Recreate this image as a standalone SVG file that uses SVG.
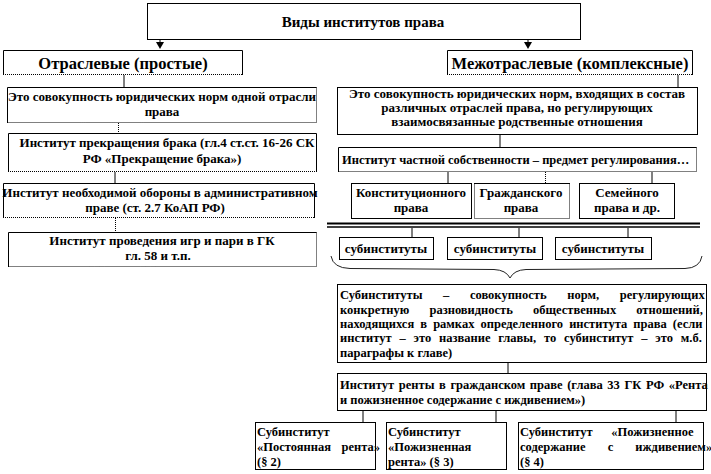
<svg xmlns="http://www.w3.org/2000/svg" width="711" height="474" viewBox="0 0 711 474">
<defs>
<style>
.t{font-family:"Liberation Serif","DejaVu Serif",serif;font-weight:bold;font-size:13px;fill:#000}
.m{font-size:12.5px}
.c{text-anchor:middle}
.bg{fill:#fff;stroke:none}
.box{fill:#fff;stroke:#000;stroke-width:1}
.s{fill:none;stroke:#000;stroke-width:1}
.d{fill:none;stroke:#000;stroke-width:1;stroke-dasharray:1 1}
.br{fill:none;stroke:#222;stroke-width:1}
</style>
</defs>
<rect width="711" height="474" fill="#fff"/>

<g id="connectors">
<line class="s" x1="160" y1="40" x2="160" y2="42"/>
<path d="M156,42 L164,42 L160,49 Z" fill="#000"/>
<line class="s" x1="528" y1="40" x2="528" y2="42"/>
<path d="M524,42 L532,42 L528,49 Z" fill="#000"/>
<line class="s" x1="124" y1="75" x2="124" y2="87"/>
<line class="s" x1="678" y1="75" x2="678" y2="87"/>
<line class="d" x1="118.5" y1="123" x2="118.5" y2="133"/>
<line class="s" x1="115" y1="172" x2="115" y2="183"/>
<line class="d" x1="115.5" y1="218" x2="115.5" y2="232"/>
<line class="s" x1="500" y1="135" x2="500" y2="147"/>
<line class="s" x1="448" y1="172" x2="448" y2="183"/>
<line class="d" x1="545.5" y1="172" x2="545.5" y2="183"/>
<line class="s" x1="652" y1="172" x2="652" y2="183"/>
<line x1="327" y1="223.5" x2="700" y2="223.5" stroke="#000" stroke-width="2"/>
<line x1="327" y1="227" x2="700" y2="227" stroke="#000" stroke-width="1.5"/>
<line class="s" x1="412" y1="228" x2="412" y2="237"/>
<line class="s" x1="519" y1="228" x2="519" y2="237"/>
<line class="s" x1="628" y1="228" x2="628" y2="237"/>
<path class="br" d="M331,256 Q333,268 350,268.5 L494,269.5 Q506,270 510,278 Q514,270 526,269.5 L685,268.5 Q700,268 702,256"/>
<line class="s" x1="508" y1="363" x2="508" y2="374"/>
<line class="s" x1="363" y1="411" x2="363" y2="422"/>
<line class="s" x1="496" y1="411" x2="496" y2="422"/>
<line class="s" x1="676" y1="411" x2="676" y2="422"/>
</g>

<g id="title">
<rect class="box" x="147.5" y="3.5" width="433" height="36"/>
<text class="t c" x="363" y="27" style="font-size:15px">Виды институтов права</text>
</g>

<g id="otr">
<rect class="bg" x="3" y="50" width="240" height="25"/>
<path class="s" d="M3.5,75 V50.5 H242.5 V75"/>
<line class="d" x1="3" y1="74.5" x2="243" y2="74.5"/>
<text class="t c" x="123" y="69" style="font-size:16.5px">Отраслевые (простые)</text>
</g>

<g id="mezh">
<rect class="bg" x="447" y="50" width="246" height="25"/>
<path class="s" d="M447.5,75 V50.5 H692.5 V75"/>
<line class="d" x1="447" y1="74.5" x2="693" y2="74.5"/>
<text class="t c" x="570" y="69" style="font-size:16.5px">Межотраслевые (комплексные)</text>
</g>

<g id="otr-def">
<rect class="bg" x="7" y="87" width="310" height="36"/>
<path class="s" d="M7.5,123 V87.5 H316.5"/>
<path class="d" d="M316.5,87.5 V122.5 H7"/>
<text class="t c" x="162" y="101">Это совокупность юридических  норм одной отрасли</text>
<text class="t c" x="162" y="116">права</text>
</g>

<g id="brak">
<rect class="bg" x="8" y="133" width="309" height="39"/>
<path class="s" d="M8.5,172 V133.5 H316.5 V172"/>
<line class="d" x1="8" y1="171.5" x2="317" y2="171.5"/>
<text class="t c" x="167" y="147">Институт прекращения брака (гл.4  ст.ст.  16-26  СК</text>
<text class="t c" x="162" y="163">РФ «Прекращение брака»)</text>
</g>

<g id="oborona">
<rect class="bg" x="3" y="183" width="312" height="35"/>
<path class="s" d="M3.5,218 V183.5 H314.5 V218"/>
<line class="d" x1="3" y1="217.5" x2="315" y2="217.5"/>
<text class="t c" x="160" y="197">Институт  необходимой  обороны в административном</text>
<text class="t c" x="155" y="212">праве (ст.  2.7 КоАП РФ)</text>
</g>

<g id="igry">
<rect class="bg" x="8" y="232" width="309" height="35"/>
<path class="s" d="M8.5,267 V232.5 H316.5"/>
<path class="d" d="M316.5,232.5 V266.5 H8"/>
<text class="t c" x="162" y="245">Институт  проведения игр и пари в ГК</text>
<text class="t c" x="158" y="260">гл.  58 и т.п.</text>
</g>

<g id="mezh-def">
<rect class="box" x="337.5" y="87.5" width="360" height="47"/>
<text class="t c" x="517" y="98">Это совокупность юридических  норм, входящих  в состав</text>
<text class="t c" x="517" y="112">различных  отраслей права, но регулирующих</text>
<text class="t c" x="517" y="126">взаимосвязанные родственные отношения</text>
</g>

<g id="chastn">
<rect class="bg" x="338" y="147" width="359" height="25"/>
<path class="s" d="M338.5,172 V147.5 H696.5"/>
<path class="d" d="M696.5,147.5 V171.5 H338"/>
<text class="t m" x="342" y="164">Институт  частной собственности – предмет регулирования…</text>
</g>

<g id="konst">
<rect class="box" x="351.5" y="183.5" width="120" height="35"/>
<text class="t c" x="411" y="197">Конституционного</text>
<text class="t c" x="411" y="212">права</text>
</g>

<g id="grazhd">
<rect class="bg" x="474" y="183" width="96" height="36"/>
<line class="s" x1="474" y1="183.5" x2="570" y2="183.5"/>
<path class="d" d="M474.5,183.5 V218.5 H569.5 V183.5"/>
<text class="t c" x="521" y="197">Гражданского</text>
<text class="t c" x="521" y="212">права</text>
</g>

<g id="semei">
<rect class="box" x="579.5" y="183.5" width="95" height="35"/>
<text class="t c" x="627" y="197">Семейного</text>
<text class="t c" x="627" y="212">права и др.</text>
</g>

<g id="sub1">
<rect class="box" x="339.5" y="237.5" width="94" height="22"/>
<text class="t c" x="386" y="253">субинституты</text>
</g>
<g id="sub2">
<rect class="box" x="447.5" y="237.5" width="95" height="22"/>
<text class="t c" x="495" y="253">субинституты</text>
</g>
<g id="sub3">
<rect class="box" x="555.5" y="237.5" width="96" height="22"/>
<text class="t c" x="603" y="253">субинституты</text>
</g>

<g id="subdef">
<rect class="box" x="337.5" y="284.5" width="369" height="78"/>
<text class="t m" x="340" y="299" style="word-spacing:17.5px">Субинституты – совокупность норм, регулирующих</text>
<text class="t m" x="340" y="314" style="word-spacing:17px">конкретную разновидность общественных отношений,</text>
<text class="t m" x="340" y="328" style="word-spacing:3px">находящихся в рамках определенного института права (если</text>
<text class="t m" x="340" y="342" style="word-spacing:4.7px">институт – это название главы, то субинститут – это м.б.</text>
<text class="t m" x="340" y="357">параграфы к главе)</text>
</g>

<g id="renta">
<rect class="box" x="337.5" y="373.5" width="369" height="37"/>
<text class="t m" x="340" y="389" style="word-spacing:1.5px">Институт ренты в гражданском праве (глава 33 ГК РФ «Рента</text>
<text class="t m" x="340" y="404">и пожизненное содержание с иждивением»)</text>
</g>

<g id="sub-post">
<rect class="box" x="255.5" y="422.5" width="120" height="47"/>
<text class="t m" x="257" y="436">Субинститут</text>
<text class="t m" x="257" y="451" style="word-spacing:7.5px">«Постоянная рента»</text>
<text class="t m" x="257" y="466">(§ 2)</text>
</g>

<g id="sub-pozh">
<rect class="box" x="386.5" y="422.5" width="120" height="47"/>
<text class="t m" x="388" y="436">Субинститут</text>
<text class="t m" x="388" y="451">«Пожизненная</text>
<text class="t m" x="388" y="466">рента» (§ 3)</text>
</g>

<g id="sub-izhd">
<rect class="box" x="518.5" y="422.5" width="185" height="47"/>
<text class="t m" x="520" y="436" style="word-spacing:15.5px">Субинститут «Пожизненное</text>
<text class="t m" x="520" y="451" style="word-spacing:19px">содержание с иждивением»</text>
<text class="t m" x="520" y="466">(§ 4)</text>
</g>
</svg>
